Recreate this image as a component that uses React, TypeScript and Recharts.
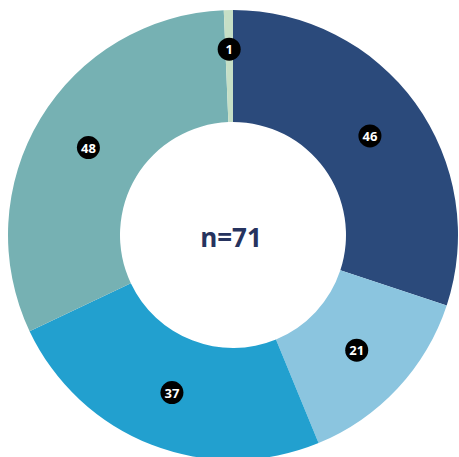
import { PieChart, Pie, Cell } from 'recharts'

const CATEGORIES = ['A', 'B', 'C', 'D', 'E']
const VALUES = [46, 21, 37, 48, 1]
const COLORS = ['#2b4a7b', '#8bc5df', '#22a0cf', '#76b1b3', '#c6dfc6']
const CENTER_TEXT = 'n=71'

const data = CATEGORIES.map((name, i) => ({ name, value: VALUES[i] }))

const RAD = Math.PI / 180

function renderLabel(props: any) {
  const { cx, cy, midAngle, innerRadius, outerRadius, percent, value } = props
  // tiny slices get pushed outward so the badge doesn't swallow the sliver
  const r = percent < 0.02 ? innerRadius + (outerRadius - innerRadius) * 0.65 : (innerRadius + outerRadius) / 2
  const x = cx + r * Math.cos(-midAngle * RAD)
  const y = cy + r * Math.sin(-midAngle * RAD)
  return (
    <g>
      <circle cx={x} cy={y} r={11.5} fill="#000" />
      <text
        x={x}
        y={y}
        fill="#fff"
        fontSize={13}
        fontWeight={700}
        fontFamily="'Open Sans', sans-serif"
        textAnchor="middle"
        dominantBaseline="central"
      >
        {value}
      </text>
    </g>
  )
}

export default function App() {
  return (
    <div style={{ position: 'absolute', left: 0, top: 0, width: 459, height: 457, background: '#fff' }}>
      <PieChart width={459} height={457} margin={{ top: 0, right: 0, bottom: 0, left: 0 }}>
        <Pie
          data={data}
          dataKey="value"
          cx={233}
          cy={235}
          innerRadius={113}
          outerRadius={225}
          startAngle={90}
          endAngle={-270}
          stroke="none"
          label={renderLabel}
          labelLine={false}
          isAnimationActive={false}
        >
          {data.map((d, i) => (
            <Cell key={d.name} fill={COLORS[i]} />
          ))}
        </Pie>
        <text
          x={231}
          y={237}
          textAnchor="middle"
          dominantBaseline="central"
          fill="#26335e"
          fontSize={26}
          fontWeight={700}
          fontFamily="'Open Sans', sans-serif"
        >
          {CENTER_TEXT}
        </text>
      </PieChart>
    </div>
  )
}
